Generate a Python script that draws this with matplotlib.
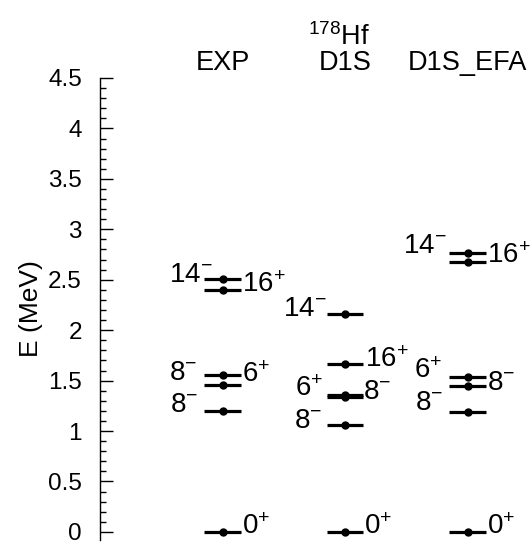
import matplotlib
matplotlib.use("Agg")
import matplotlib.pyplot as plt
from matplotlib.ticker import FixedLocator

plt.rcParams['font.family'] = ['Liberation Sans', 'DejaVu Sans']
plt.rcParams['mathtext.fontset'] = 'custom'
plt.rcParams['mathtext.rm'] = 'Liberation Sans'
plt.rcParams['mathtext.it'] = 'Liberation Sans'
plt.rcParams['mathtext.default'] = 'regular'

# ---- data ----
columns = ["EXP", "D1S", "D1S_EFA"]
nucleus = r"$^{178}$Hf"

exp_levels = [0.0, 1.20, 1.457, 1.556, 2.40, 2.51]
d1s_levels = [0.0, 1.06, 1.34, 1.36, 1.665, 2.16]
efa_levels = [0.0, 1.19, 1.45, 1.54, 2.68, 2.77]

# labels: (energy, text, side)
exp_labels = [(0.0, r"0$^{+}$", "R"), (1.20, r"8$^{-}$", "L"), (1.457, r"6$^{+}$", "R"),
              (1.556, r"8$^{-}$", "L"), (2.40, r"16$^{+}$", "R"), (2.51, r"14$^{-}$", "L")]
d1s_labels = [(0.0, r"0$^{+}$", "R"), (1.06, r"8$^{-}$", "L"), (1.34, r"6$^{+}$", "L"),
              (1.36, r"8$^{-}$", "R"), (1.665, r"16$^{+}$", "R"), (2.16, r"14$^{-}$", "L")]
efa_labels = [(0.0, r"0$^{+}$", "R"), (1.19, r"8$^{-}$", "L"), (1.45, r"8$^{-}$", "R"),
              (1.54, r"6$^{+}$", "L"), (2.68, r"16$^{+}$", "R"), (2.77, r"14$^{-}$", "L")]

yticks = [0, 0.5, 1, 1.5, 2, 2.5, 3, 3.5, 4, 4.5]
yticklabels = ["0", "0.5", "1", "1.5", "2", "2.5", "3", "3.5", "4", "4.5"]

# ---- style: per-label pixel offsets (dx, dy) ----
exp_off = [(1, -2), (-6, -1), (1, 3), (-7, -5), (1, -2), (8, -3)]
d1s_off = [(1, -2), (-5, -3), (-4, 1), (0, -4), (2, -3), (0, -2)]
efa_off = [(1, -2), (-6, 2), (1, -4), (-7, -1), (1, -1), (-3, 0)]

fig = plt.figure(figsize=(5.32, 5.44), dpi=100)
ax = fig.add_axes([100 / 532, 4 / 544, 432 / 532, 462 / 544])
ax.set_xlim(0, 432 / 122.5)
ax.set_ylim(-0.08, 4.5)

half = 0.147
all_levels = [exp_levels, d1s_levels, efa_levels]
all_labels = [exp_labels, d1s_labels, efa_labels]
all_off = [exp_off, d1s_off, efa_off]
for i, (lev, labs, offs) in enumerate(zip(all_levels, all_labels, all_off)):
    xc = i + 1
    ax.hlines(lev, xc - half, xc + half, colors='black', lw=2.3)
    ax.plot([xc] * len(lev), lev, 'o', color='black', ms=5, zorder=3)
    for (e, txt, side), (dx, dy) in zip(labs, offs):
        if side == "L":
            ax.annotate(txt, (xc - half, e), xytext=(dx, dy), textcoords='offset pixels',
                        ha='right', va='baseline', fontsize=20, annotation_clip=False)
        else:
            ax.annotate(txt, (xc + half, e), xytext=(dx, dy), textcoords='offset pixels',
                        ha='left', va='baseline', fontsize=20, annotation_clip=False)

# headers
for i, name in enumerate(columns):
    ax.text(i + 1, 4.575, name, ha='center', va='baseline', fontsize=19.5, clip_on=False)
ax.text(1.95, 4.83, nucleus, ha='center', va='baseline', fontsize=19.5, clip_on=False)

for s in ['top', 'right', 'bottom']:
    ax.spines[s].set_visible(False)
ax.spines['left'].set_linewidth(1.0)
ax.set_xticks([])
ax.yaxis.set_major_locator(FixedLocator(yticks))
ax.set_yticklabels(yticklabels)
ax.yaxis.set_minor_locator(FixedLocator([k / 10 for k in range(0, 46) if k % 5 != 0]))
ax.tick_params(axis='y', which='major', direction='in', length=9, width=1.0, labelsize=17.5, pad=13)
ax.tick_params(axis='y', which='minor', direction='in', length=4.5, width=1.0)
ax.set_ylabel("E (MeV)", fontsize=19, labelpad=4)

fig.savefig("out.png", dpi=100)
